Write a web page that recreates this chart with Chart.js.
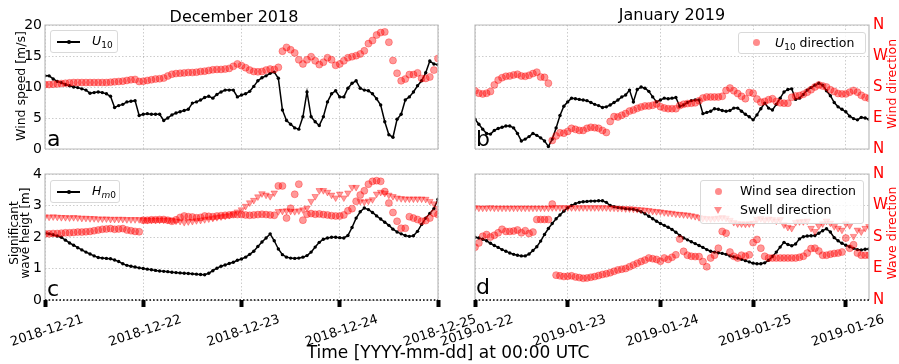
<!DOCTYPE html>
<html>
<head>
<meta charset="utf-8">
<title>Wind and wave conditions</title>
<script src="https://cdn.jsdelivr.net/npm/chart.js@4.4.1/dist/chart.umd.min.js"></script>
<style>
  body { margin: 0; background: #fff; }
  #fig { position: relative; width: 899px; height: 364px; overflow: hidden; font-family: "DejaVu Sans", sans-serif; color: #000; }
  #fig canvas { position: absolute; left: 0; top: 0; }
  .txt { position: absolute; white-space: nowrap; line-height: 1.1; transform: translate(-50%, -50%); text-align: center; }
  .vert { transform: translate(-50%, -50%) rotate(-90deg); }
  .red { color: #ff0000; }
  .letter { position: absolute; font-size: 22px; line-height: 1; }
  .legend { position: absolute; box-sizing: border-box; background: rgba(255,255,255,0.8); border: 1px solid #d9d9d9; border-radius: 3px; font-size: 12.5px; }
  .legend .lab { position: absolute; white-space: nowrap; line-height: 1; }
  .legend sub { font-size: 0.72em; vertical-align: -0.35em; line-height: 0; }
  .mk-line { position: absolute; height: 1.6px; background: #000; }
  .mk-dot { position: absolute; width: 4px; height: 4px; border-radius: 50%; background: #000; }
  .mk-circ { position: absolute; width: 7px; height: 7px; border-radius: 50%; background: rgba(255,0,0,0.45); }
  .mk-tri { position: absolute; width: 0; height: 0; border-left: 4px solid transparent; border-right: 4px solid transparent; border-top: 7px solid rgba(255,0,0,0.45); }
</style>
</head>
<body>
<div id="fig">
  <canvas id="cA" width="899" height="364"></canvas>
  <canvas id="cB" width="899" height="364"></canvas>
  <canvas id="cC" width="899" height="364"></canvas>
  <canvas id="cD" width="899" height="364"></canvas>

  <div class="txt" style="left:234px;top:17px;font-size:16px;">December 2018</div>
  <div class="txt" style="left:672px;top:15px;font-size:16px;">January 2019</div>
  <div class="txt vert" style="left:21px;top:86px;font-size:12.5px;">Wind speed [m/s]</div>
  <div class="txt vert" style="left:20px;top:233px;font-size:12px;line-height:0.95;">Significant<br>wave heigt [m]</div>
  <div class="txt vert red" style="left:892px;top:84px;font-size:12.5px;">Wind direction</div>
  <div class="txt vert red" style="left:892px;top:233px;font-size:12.5px;">Wave direction</div>
  <div class="txt" style="left:448px;top:352px;font-size:17px;">Time [YYYY-mm-dd] at 00:00 UTC</div>

  <div class="letter" style="left:47px;top:128px;">a</div>
  <div class="letter" style="left:476px;top:128px;">b</div>
  <div class="letter" style="left:47px;top:278px;">c</div>
  <div class="letter" style="left:476px;top:276px;">d</div>

  <div class="legend" style="left:50px;top:30px;width:68px;height:23px;">
    <span class="mk-line" style="left:6px;top:10px;width:23px;"></span>
    <span class="mk-dot" style="left:15.5px;top:9px;"></span>
    <span class="lab" style="left:41px;top:4px;"><i>U</i><sub>10</sub></span>
  </div>
  <div class="legend" style="left:738px;top:32px;width:128px;height:22px;">
    <span class="mk-circ" style="left:14px;top:6px;"></span>
    <span class="lab" style="left:36px;top:4px;"><i>U</i><sub>10</sub> direction</span>
  </div>
  <div class="legend" style="left:50px;top:180px;width:70px;height:23px;">
    <span class="mk-line" style="left:6px;top:10px;width:23px;"></span>
    <span class="mk-dot" style="left:15.5px;top:9px;"></span>
    <span class="lab" style="left:41px;top:4px;"><i>H</i><sub><i>m</i>0</sub></span>
  </div>
  <div class="legend" style="left:700px;top:180px;width:164px;height:44px;">
    <span class="mk-circ" style="left:13.5px;top:6.5px;"></span>
    <span class="mk-tri" style="left:13px;top:25.5px;"></span>
    <span class="lab" style="left:39px;top:4px;">Wind sea direction</span>
    <span class="lab" style="left:39px;top:23px;">Swell direction</span>
  </div>
</div>

<script>
// tick labels
const decDays = ['2018-12-21', '2018-12-22', '2018-12-23', '2018-12-24', '2018-12-25'];
const janDays = ['2019-01-22', '2019-01-23', '2019-01-24', '2019-01-25', '2019-01-26'];
const dirLabels = ['N', 'E', 'S', 'W', 'N'];

// hourly series, hour 0 = first date at 00:00 UTC
// wind speed U10 [m/s]
const decU10 = [11.8,11.8,11.3,10.9,10.7,10.4,10.2,10.0,9.9,9.7,
  9.5,9.0,9.1,9.2,9.1,8.9,8.5,6.7,7.0,7.2,
  7.6,7.7,7.8,5.4,5.6,5.7,5.6,5.6,5.6,4.6,
  5.0,5.5,5.8,6.0,6.2,6.4,7.4,7.6,7.9,8.3,
  8.5,8.2,8.8,9.2,9.5,9.5,9.5,8.4,8.7,8.9,
  9.3,10.1,11.0,11.5,11.8,12.2,12.4,11.4,6.3,4.6,
  4.0,3.4,3.2,5.2,9.2,5.2,4.4,3.8,5.2,7.6,
  8.9,9.4,8.4,8.4,9.8,10.6,11.0,9.8,9.5,9.4,
  8.9,8.1,7.1,4.4,2.3,1.9,4.8,5.6,7.9,8.4,
  9.2,10.2,11.0,12.3,14.2,13.7,13.6];
const janU10 = [4.8,4.0,3.2,2.5,2.4,3.0,3.3,3.5,3.7,3.7,
  3.4,2.5,1.3,1.6,2.0,2.5,2.2,1.8,1.3,0.4,
  1.6,3.4,5.4,6.9,7.6,8.2,8.1,8.0,7.9,7.8,
  7.5,7.2,7.0,6.7,6.8,7.1,7.5,7.9,8.4,8.7,
  9.5,7.6,9.6,10.0,9.8,9.3,8.4,7.6,7.9,8.2,
  8.1,8.2,8.3,6.9,7.1,7.5,7.8,7.9,7.9,5.7,
  5.9,6.1,6.5,6.4,6.2,6.1,6.2,6.6,6.6,6.1,
  5.6,5.2,4.7,5.5,6.5,7.4,6.6,6.3,7.2,8.2,
  9.2,9.6,9.7,8.0,8.2,8.8,9.5,9.9,10.3,10.6,
  10.3,9.4,8.6,7.5,6.8,6.4,6.0,5.3,4.9,4.7,
  5.1,5.0,4.8];

// wind direction [deg from N]
const decU10Dir = [187,187,188,189,190,191,192,193,193,193,
  193,193,193,193,193,193,194,195,196,197,
  199,201,202,196,197,199,201,203,204,206,
  212,217,219,220,221,222,222,223,225,226,
  228,230,231,231,232,234,240,247,242,236,
  229,225,224,225,229,232,231,237,284,295,
  288,279,259,247,259,268,256,245,252,265,
  259,243,247,256,265,268,271,276,285,306,
  315,331,338,340,310,257,220,198,203,216,
  216,221,205,205,209,229,263];
const janU10Dir = [169,162,160,162,167,186,200,207,211,212,
  215,217,212,211,214,219,223,209,208,191,
  25,38,47,46,51,60,57,54,54,60,
  63,62,60,54,48,80,94,93,98,103,
  110,113,118,122,125,125,127,131,123,119,
  117,117,117,126,130,132,133,134,140,148,
  151,151,151,151,153,170,177,169,161,153,
  146,164,162,145,136,138,143,146,138,134,
  133,133,150,154,155,159,165,172,180,186,
  183,180,172,167,161,160,160,165,170,165,
  156,150,147];

// significant wave height Hm0 [m]
const decHm0 = [2.12,2.10,2.07,2.03,1.99,1.90,1.81,1.74,1.66,1.59,
  1.52,1.46,1.40,1.35,1.33,1.32,1.31,1.27,1.22,1.15,
  1.10,1.07,1.05,1.02,1.00,0.98,0.96,0.94,0.92,0.91,
  0.90,0.88,0.87,0.86,0.85,0.84,0.83,0.82,0.81,0.80,
  0.85,0.93,1.01,1.07,1.11,1.16,1.20,1.26,1.30,1.36,
  1.45,1.55,1.70,1.84,1.97,2.10,1.88,1.62,1.44,1.36,
  1.33,1.32,1.33,1.36,1.41,1.52,1.68,1.83,1.93,1.97,
  1.99,1.99,1.98,1.97,2.05,2.30,2.60,2.80,2.92,2.87,
  2.78,2.67,2.57,2.47,2.37,2.25,2.16,2.10,2.05,2.02,
  2.04,2.18,2.40,2.60,2.75,2.90,3.20];
const janHm0 = [1.99,1.97,1.93,1.88,1.80,1.73,1.67,1.60,1.55,1.49,
  1.45,1.42,1.40,1.40,1.46,1.57,1.69,1.87,2.08,2.27,
  2.43,2.58,2.70,2.82,2.93,3.00,3.06,3.10,3.12,3.13,
  3.14,3.14,3.15,3.15,3.10,3.00,2.96,2.94,2.92,2.90,
  2.89,2.88,2.85,2.80,2.74,2.66,2.58,2.50,2.43,2.37,
  2.31,2.24,2.15,2.05,1.97,1.91,1.85,1.79,1.73,1.67,
  1.60,1.55,1.52,1.50,1.48,1.45,1.40,1.37,1.33,1.29,
  1.25,1.21,1.17,1.15,1.15,1.18,1.26,1.38,1.52,1.68,
  1.83,1.76,1.72,1.78,1.94,2.01,2.03,2.04,2.05,2.12,
  2.20,2.26,2.16,1.98,1.88,1.80,1.74,1.69,1.64,1.60,
  1.59,1.61,1.62];

// wave directions [deg from N]
const decWindSeaDir = [189,189,190,190,191,192,192,193,194,194,
  195,196,198,200,202,203,204,202,203,204,
  200,198,196,195,228,228,229,229,230,230,
  228,225,229,236,240,238,237,235,236,240,
  239,238,240,241,242,243,244,244,244,243,
  242,243,244,245,244,243,242,326,326,234,
  262,302,331,228,245,247,245,246,244,243,
  241,240,240,243,255,261,282,300,312,331,
  339,341,339,310,277,250,225,205,205,238,
  234,230,225,227,234,248,244];
const decSwellDir = [238,237,238,237,236,236,235,236,235,234,
  234,233,233,232,232,232,231,231,231,231,
  230,230,230,230,229,229,229,229,229,229,
  229,228,226,225,222,224,225,227,228,230,
  232,234,236,238,240,242,246,252,258,268,
  278,285,295,304,300,296,306,253,254,255,
  254,253,255,258,263,282,296,313,313,308,
  300,292,303,292,306,322,322,282,280,283,
  287,303,308,305,300,296,292,290,289,289,
  289,289,289,288,282,275,262];
const janWindSeaDir = [151,163,182,187,180,185,192,202,196,196,
  197,200,192,198,190,194,230,230,230,230,
  274,71,69,67,68,69,66,64,62,63,
  65,67,70,73,75,78,82,86,88,90,
  95,100,105,110,114,120,118,116,111,120,
  116,122,129,174,139,128,125,124,124,110,
  95,120,128,148,196,191,137,125,120,128,
  125,129,164,173,148,125,120,120,120,120,
  120,120,120,120,122,125,134,147,148,140,
  128,128,131,133,134,137,177,148,158,134,
  128,128,128];
const janSwellDir = [264,263,263,263,264,263,263,263,263,263,
  263,263,263,263,263,263,263,263,263,263,
  264,264,264,264,264,264,264,264,264,264,
  264,264,264,264,264,263,263,262,262,261,
  261,260,259,258,257,256,254,253,252,250,
  249,248,246,245,244,243,241,239,236,234,
  233,232,233,234,236,234,228,222,218,218,
  217,218,220,230,233,228,232,230,226,230,
  215,208,205,222,224,224,226,205,196,212,
  218,226,220,210,205,200,218,213,182,200,
  195,205,210];

Chart.defaults.font.family = '"DejaVu Sans", sans-serif';
Chart.defaults.color = '#000';

const W = 899, H = 364;
const gridColor = 'rgba(0,0,0,0.2)';
const redFill = 'rgba(255,0,0,0.4)';

// axes frame; bottom panels get a dotted black baseline
const framePlugin = {
  id: 'frame',
  afterDatasetsDraw(chart, args, opts) {
    const { ctx, chartArea: { left, right, top, bottom } } = chart;
    ctx.save();
    ctx.lineWidth = 1.2;
    ctx.strokeStyle = '#bcbcbc';
    ctx.beginPath();
    ctx.moveTo(left, bottom);
    ctx.lineTo(left, top);
    ctx.lineTo(right, top);
    ctx.lineTo(right, bottom);
    if (!opts.dottedBottom) ctx.lineTo(left, bottom);
    ctx.stroke();
    if (opts.dottedBottom) {
      ctx.strokeStyle = '#000';
      ctx.lineWidth = 1.6;
      ctx.setLineDash([1.6, 2]);
      ctx.beginPath();
      ctx.moveTo(left, bottom);
      ctx.lineTo(right, bottom);
      ctx.stroke();
    }
    ctx.restore();
  }
};

// date labels under the bottom panels, rotated about their centre like matplotlib
const dateLabelPlugin = {
  id: 'dateLabels',
  afterDraw(chart, args, opts) {
    if (!opts.labels) return;
    const { ctx, chartArea } = chart;
    const xs = chart.scales.x;
    ctx.save();
    ctx.font = '13px "DejaVu Sans", sans-serif';
    ctx.fillStyle = '#000';
    ctx.textAlign = 'center';
    ctx.textBaseline = 'middle';
    opts.labels.forEach((lab, i) => {
      const px = xs.getPixelForValue(i * 24);
      ctx.save();
      ctx.translate(px + 2, chartArea.bottom + 31);
      ctx.rotate(-18 * Math.PI / 180);
      ctx.fillText(lab, 0, 0);
      ctx.restore();
    });
    ctx.restore();
  }
};

const panels = [
  { id: 'cA', area: { l: 45, r: 438, t: 25, b: 149 }, days: decDays, maxH: 96, yMax: 20, yStep: 5,
    leftLabels: true, rightLabels: false, bottom: false, line: decU10, circles: decU10Dir, tris: null },
  { id: 'cB', area: { l: 475, r: 869, t: 25, b: 149 }, days: janDays, maxH: 102, yMax: 20, yStep: 5,
    leftLabels: false, rightLabels: true, bottom: false, line: janU10, circles: janU10Dir, tris: null },
  { id: 'cC', area: { l: 45, r: 438, t: 174, b: 300 }, days: decDays, maxH: 96, yMax: 4, yStep: 1,
    leftLabels: true, rightLabels: false, bottom: true, line: decHm0, circles: decWindSeaDir, tris: decSwellDir },
  { id: 'cD', area: { l: 475, r: 869, t: 174, b: 300 }, days: janDays, maxH: 102, yMax: 4, yStep: 1,
    leftLabels: false, rightLabels: true, bottom: true, line: janHm0, circles: janWindSeaDir, tris: janSwellDir },
];

function toXY(arr) {
  return arr.map((v, i) => ({ x: i, y: v }));
}

function makePanel(p) {
  const datasets = [
    {
      data: toXY(p.line), yAxisID: 'y', showLine: true,
      borderColor: '#000', borderWidth: 1.5,
      pointRadius: 1.7, pointBackgroundColor: '#000', pointBorderWidth: 0,
      order: 3
    },
    {
      data: toXY(p.circles), yAxisID: 'y2',
      pointRadius: 3.5, pointBackgroundColor: redFill, pointBorderColor: redFill, pointBorderWidth: 0.8,
      order: 1
    }
  ];
  if (p.tris) {
    datasets.push({
      data: toXY(p.tris), yAxisID: 'y2',
      pointStyle: 'triangle', pointRotation: 180,
      pointRadius: 3.8, pointBackgroundColor: redFill, pointBorderColor: redFill, pointBorderWidth: 0.8,
      order: 2
    });
  }

  new Chart(document.getElementById(p.id), {
    type: 'scatter',
    data: { datasets },
    plugins: [framePlugin, dateLabelPlugin],
    options: {
      responsive: false,
      animation: false,
      devicePixelRatio: 1,
      events: [],
      layout: { padding: { top: p.area.t, left: 0, right: 0, bottom: 0 }, autoPadding: false },
      plugins: {
        legend: { display: false },
        tooltip: { enabled: false },
        frame: { dottedBottom: p.bottom },
        dateLabels: { labels: p.bottom ? p.days : null }
      },
      scales: {
        x: {
          type: 'linear', min: 0, max: p.maxH,
          afterBuildTicks: s => { s.ticks = p.days.map((d, i) => ({ value: i * 24 })); },
          afterFit: s => { s.height = H - p.area.b; s.paddingLeft = 0; s.paddingRight = 0; },
          grid: { color: gridColor, lineWidth: 1, drawTicks: p.bottom, tickLength: 7, tickWidth: 4, tickColor: '#000' },
          border: { display: false, dash: [1.5, 2] },
          ticks: { display: false }
        },
        y: {
          position: 'left', min: 0, max: p.yMax,
          afterFit: s => { s.width = p.area.l; s.paddingTop = 0; s.paddingBottom = 0; },
          ticks: { stepSize: p.yStep, display: p.leftLabels, padding: 3, color: '#000', font: { size: 14 } },
          grid: { color: gridColor, lineWidth: 1, drawTicks: false },
          border: { display: false, dash: [1.5, 2] }
        },
        y2: {
          position: 'right', min: 0, max: 360,
          afterFit: s => { s.width = W - p.area.r; s.paddingTop = 0; s.paddingBottom = 0; },
          ticks: {
            stepSize: 90, display: p.rightLabels, padding: 4, color: '#ff0000', font: { size: 15 },
            callback: (v, i) => dirLabels[i]
          },
          grid: { drawOnChartArea: false, drawTicks: false },
          border: { display: false }
        }
      }
    }
  });
}

panels.forEach(makePanel);
</script>
</body>
</html>
